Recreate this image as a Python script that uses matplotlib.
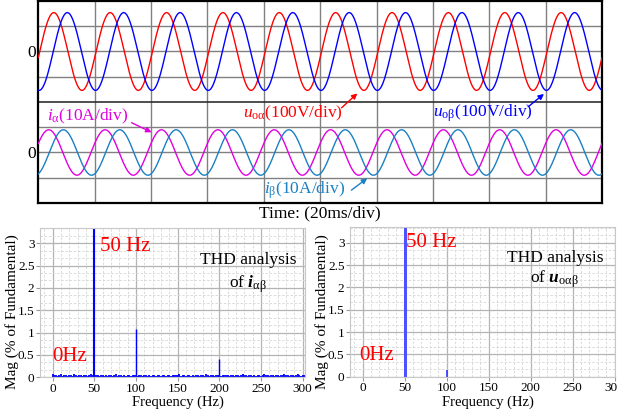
import numpy as np
import matplotlib
matplotlib.use("Agg")
import matplotlib.pyplot as plt
from matplotlib.ticker import MultipleLocator

plt.rcParams['font.family'] = ['Liberation Serif', 'DejaVu Serif']
plt.rcParams['mathtext.fontset'] = 'custom'
plt.rcParams['mathtext.rm'] = 'Liberation Serif'
plt.rcParams['mathtext.it'] = 'Liberation Serif:italic'
plt.rcParams['mathtext.bf'] = 'Liberation Serif:bold:italic'

# ---------------- data ----------------
# oscilloscope waveforms (units: divisions), 50 Hz, 20 ms/div, 10 div
grid_freq_hz = 50
time_span_ms = 200
wave_labels = ['u_oalpha', 'u_obeta', 'i_alpha', 'i_beta']
wave_amp_div = [1.54, 1.54, 0.90, 0.90]
wave_zero_div = [6, 6, 2, 2]
wave_peak_ms = [5.5, 10.3, 3.7, 8.9]
wave_colors = ['#ff0000', '#0000ff', '#e000e0', '#1a80c4']

# spectra (% of fundamental)
harm_freq_i = [50, 100, 200]
harm_mag_i = [100.0, 1.08, 0.42]
harm_freq_u = [50, 100]
harm_mag_u = [100.0, 0.15]

noise_freq_i = list(range(0, 320, 2))
noise_mag_i = [
    0.08, 0.05, 0.06, 0.04, 0.05, 0.07, 0.04, 0.05, 0.06, 0.04,
    0.05, 0.06, 0.04, 0.07, 0.05, 0.04, 0.06, 0.05, 0.04, 0.05,
    0.06, 0.04, 0.05, 0.07, 0.05, 0.08, 0.06, 0.05, 0.04, 0.05,
    0.06, 0.04, 0.05, 0.04, 0.06, 0.05, 0.04, 0.05, 0.07, 0.04,
    0.05, 0.06, 0.04, 0.05, 0.04, 0.06, 0.05, 0.04, 0.05, 0.06,
    0.05, 0.04, 0.06, 0.05, 0.04, 0.05, 0.06, 0.04, 0.05, 0.04,
    0.06, 0.05, 0.04, 0.05, 0.06, 0.04, 0.05, 0.06, 0.04, 0.05,
    0.06, 0.04, 0.05, 0.05, 0.06, 0.05, 0.07, 0.04, 0.05, 0.06,
    0.04, 0.05, 0.06, 0.04, 0.05, 0.04, 0.06, 0.05, 0.04, 0.05,
    0.06, 0.04, 0.07, 0.05, 0.04, 0.06, 0.05, 0.04, 0.05, 0.06,
    0.05, 0.04, 0.06, 0.05, 0.05, 0.06, 0.04, 0.05, 0.06, 0.04,
    0.05, 0.06, 0.04, 0.05, 0.07, 0.05, 0.06, 0.04, 0.05, 0.06,
    0.04, 0.05, 0.04, 0.06, 0.05, 0.04, 0.06, 0.07, 0.05, 0.06,
    0.04, 0.06, 0.05, 0.04, 0.05, 0.06, 0.04, 0.05, 0.06, 0.07,
    0.05, 0.06, 0.04, 0.05, 0.06, 0.04, 0.05, 0.07, 0.05, 0.04,
    0.06, 0.05, 0.04, 0.05, 0.06, 0.05, 0.04, 0.05, 0.06, 0.05,
]

freq_ticks = [0, 50, 100, 150, 200, 250, 300]
mag_ticks = [0, 0.5, 1, 1.5, 2, 2.5, 3]

W, H = 617, 411
fig = plt.figure(figsize=(W / 100, H / 100), dpi=100)

def px_axes(x0, y0, x1, y1):
    return fig.add_axes([x0 / W, (H - y1) / H, (x1 - x0) / W, (y1 - y0) / H])

# ---------------- top oscilloscope panel ----------------
ax = px_axes(38.3, 1, 602, 203)
t = np.linspace(0, time_span_ms, 4001)
for amp, zero, peak, col in zip(wave_amp_div, wave_zero_div, wave_peak_ms, wave_colors):
    y = zero + amp * np.cos(2 * np.pi * grid_freq_hz * (t - peak) / 1000.0)
    ax.plot(t, y, color=col, lw=1.0, zorder=3)
ax.set_xlim(0, time_span_ms)
ax.set_ylim(0, 8)
for xv in range(20, 200, 20):
    ax.axvline(xv, color='#808080', lw=1.0, zorder=1)
for yv in range(1, 8):
    ax.axhline(yv, color='#303030' if yv == 4 else '#808080', lw=1.2 if yv == 4 else 1.0, zorder=1)
for s in ax.spines.values():
    s.set_linewidth(1.6)
    s.set_color('black')
ax.set_xticks([])
ax.set_yticks([2, 6])
ax.set_yticklabels(['0', '0'], fontsize=12.5)
ax.tick_params(axis='y', length=0, pad=2)

fs = 12.5
ax.text(3.2, 3.42, r'$i_{\mathrm{\alpha}}$(10A/div)', color=wave_colors[2], fontsize=fs, va='center', ha='left')
ax.text(72.6, 3.55, r'$u_{\mathrm{o\alpha}}$(100V/div)', color=wave_colors[0], fontsize=fs, va='center', ha='left')
ax.text(140.0, 3.55, r'$u_{\mathrm{o\beta}}$(100V/div)', color=wave_colors[1], fontsize=fs, va='center', ha='left')
ax.text(80.0, 0.51, r'$i_{\mathrm{\beta}}$(10A/div)', color=wave_colors[3], fontsize=fs, va='center', ha='left')

arrows = [((33.1, 3.18), (40.2, 2.80), wave_colors[2]),
          ((107.6, 3.77), (113.2, 4.34), wave_colors[0]),
          ((173.8, 3.81), (179.4, 4.32), wave_colors[1]),
          ((111.1, 0.51), (116.7, 0.98), wave_colors[3])]
for start, end, col in arrows:
    ax.annotate('', xy=end, xytext=start,
                arrowprops=dict(arrowstyle='-|>', color=col, lw=1.0, mutation_scale=8,
                                shrinkA=0, shrinkB=0), zorder=5)

fig.text(320 / W, 1 - 213 / H, 'Time: (20ms/div)', fontsize=12.5, ha='center', va='center')

# ---------------- spectrum panels ----------------
def style_spec(a, xlim, ylim):
    a.set_xlim(*xlim)
    a.set_ylim(*ylim)
    a.set_xticks(freq_ticks)
    a.set_yticks(mag_ticks)
    a.set_yticklabels(['0', '0.5', '1', '1.5', '2', '2.5', '3'])
    a.xaxis.set_minor_locator(MultipleLocator(10))
    a.yaxis.set_minor_locator(MultipleLocator(0.5 / 3))
    a.grid(which='major', color='#b4b4b4', lw=0.9)
    a.grid(which='minor', color='#d6d6d6', lw=0.6, ls=(0, (3, 2)))
    a.set_axisbelow(True)
    for s in a.spines.values():
        s.set_color('#c8c8c8')
        s.set_linewidth(0.8)
    a.tick_params(which='major', labelsize=9.5, length=3, color='#999999', pad=1.0)
    a.tick_params(which='minor', length=0)

ax1 = px_axes(40, 228, 305, 377.3)
style_spec(ax1, (-15.2, 303), (0, 3.34))
ax1.vlines(noise_freq_i, 0, noise_mag_i, color='#0000ff', lw=1.3)
ax1.vlines(harm_freq_i[0], 0, harm_mag_i[0], color='#0000ff', lw=1.5)
ax1.vlines(harm_freq_i[1:], 0, harm_mag_i[1:], color='#0000ff', lw=1.0)
ax1.text(56.5, 2.92, '50 Hz', color='red', fontsize=15, va='center', ha='left')
ax1.text(0, 0.46, '0Hz', color='red', fontsize=15, va='center', ha='left')
ax1.text(234.8, 2.62, 'THD analysis', fontsize=12.5, ha='center', va='center')
ax1.text(234.5, 2.09, r'of $\mathbf{i}_{\mathrm{\alpha\beta}}$', fontsize=12.5, ha='center', va='center')

ax2 = px_axes(350, 226.7, 615, 376.7)
style_spec(ax2, (-15.1, 300.4), (0, 3.36))
ax2.vlines(harm_freq_u[0], 0, harm_mag_u[0], color='#5050ff', lw=2.2)
ax2.vlines(harm_freq_u[1:], 0, harm_mag_u[1:], color='#3030ff', lw=1.2)
ax2.text(51.5, 3.0, '50 Hz', color='red', fontsize=15, va='center', ha='left')
ax2.text(-4, 0.485, '0Hz', color='red', fontsize=15, va='center', ha='left')
ax2.text(229, 2.65, 'THD analysis', fontsize=12.5, ha='center', va='center')
ax2.text(228.5, 2.18, r'of $\mathbf{u}_{\mathrm{o\alpha\beta}}$', fontsize=12.5, ha='center', va='center')

for xc in (177.5, 487.5):
    fig.text(xc / W, 1 - 402 / H, 'Frequency (Hz)', fontsize=10.5, ha='center', va='center')
for xc in (12.5, 322.5):
    fig.text(xc / W, 1 - 311.7 / H, 'Mag (% of Fundamental)', fontsize=11, rotation=90,
             ha='center', va='center')

fig.savefig('out.png', dpi=100)
